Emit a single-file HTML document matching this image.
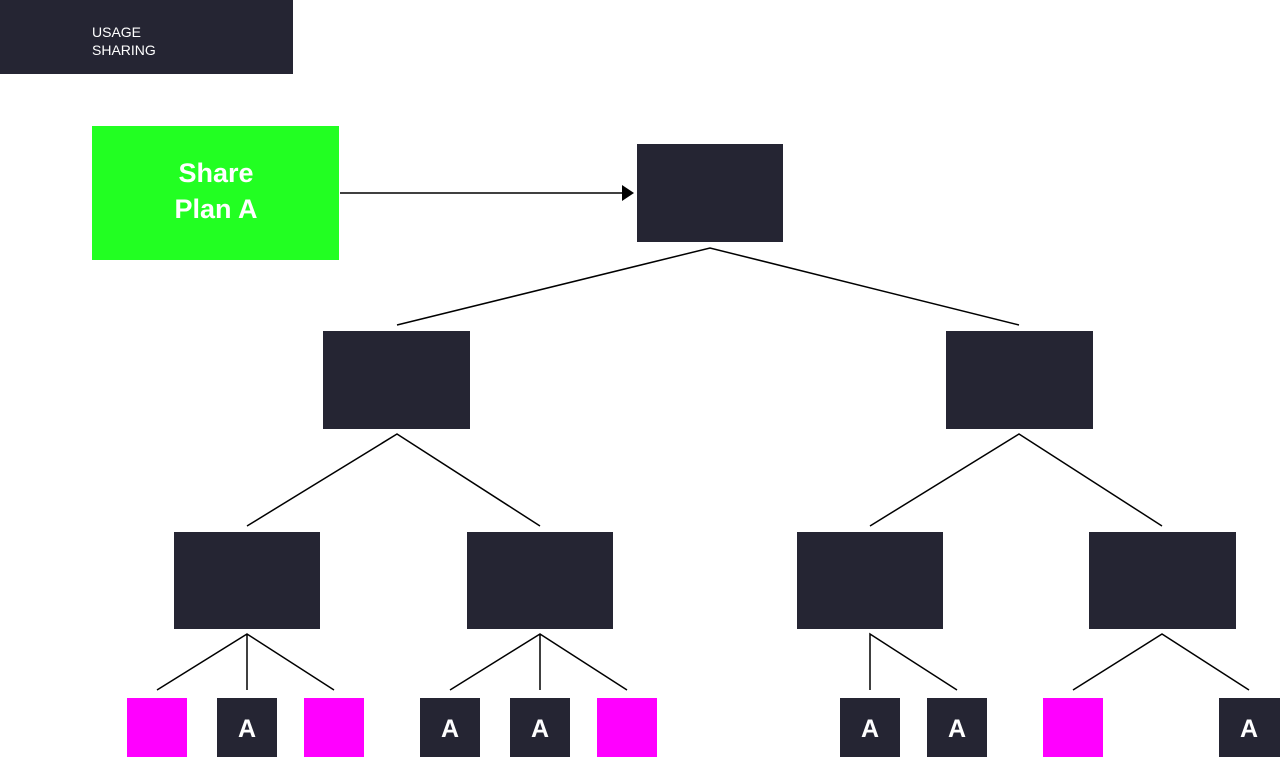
<html><body style="margin:0;width:1280px;height:757px;background:#fff;position:relative;overflow:hidden;font-family:'Liberation Sans',sans-serif">
<svg width="1280" height="757" style="position:absolute;left:0;top:0">
<rect x="0" y="0" width="293" height="74" fill="#252533"/>
<text x="92" y="37" fill="#fff" font-size="14">USAGE</text>
<text x="92" y="55" fill="#fff" font-size="14">SHARING</text>
<rect x="92" y="126" width="247" height="134" fill="#22ff22"/>
<text x="216" y="182" fill="#fff" font-size="27" font-weight="bold" text-anchor="middle">Share</text>
<text x="216" y="218" fill="#fff" font-size="27" font-weight="bold" text-anchor="middle">Plan A</text>
<line x1="340" y1="193" x2="624" y2="193" stroke="#000" stroke-width="1.5"/>
<polygon points="622,185 634,193 622,201" fill="#000"/>
<g fill="#252533">
<rect x="637" y="144" width="146" height="98"/>
<rect x="323" y="331" width="147" height="98"/>
<rect x="946" y="331" width="147" height="98"/>
<rect x="174" y="532" width="146" height="97"/>
<rect x="467" y="532" width="146" height="97"/>
<rect x="797" y="532" width="146" height="97"/>
<rect x="1089" y="532" width="147" height="97"/>
<rect x="217" y="698" width="60" height="59"/>
<rect x="420" y="698" width="60" height="59"/>
<rect x="510" y="698" width="60" height="59"/>
<rect x="840" y="698" width="60" height="59"/>
<rect x="927" y="698" width="60" height="59"/>
<rect x="1219" y="698" width="61" height="59"/>
</g>
<g fill="#ff00ff">
<rect x="127" y="698" width="60" height="59"/>
<rect x="304" y="698" width="60" height="59"/>
<rect x="597" y="698" width="60" height="59"/>
<rect x="1043" y="698" width="60" height="59"/>
</g>
<g fill="#fff" font-size="25" font-weight="bold" text-anchor="middle">
<text x="247" y="737">A</text><text x="450" y="737">A</text><text x="540" y="737">A</text>
<text x="870" y="737">A</text><text x="957" y="737">A</text><text x="1249" y="737">A</text>
</g>
<g stroke="#000" stroke-width="1.5" fill="none">
<path d="M397 325L710 248L1019 325"/>
<path d="M247 526L397 434L540 526"/>
<path d="M870 526L1019 434L1162 526"/>
<path d="M157 690L247 634L334 690M247 634V690"/>
<path d="M450 690L540 634L627 690M540 634V690"/>
<path d="M957 690L870 634V690"/>
<path d="M1073 690L1162 634L1249 690"/>
</g>
</svg>
</body></html>
